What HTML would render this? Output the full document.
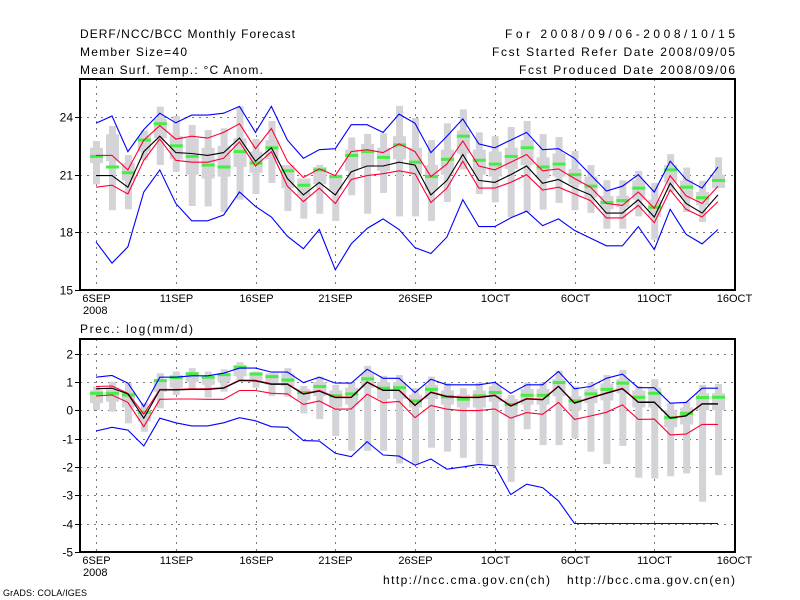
<!DOCTYPE html>
<html><head><meta charset="utf-8"><style>
html,body{margin:0;padding:0;background:#fff;}
svg{display:block;font-family:"Liberation Sans",sans-serif;}
</style></head><body>
<svg id="chart" width="800" height="600" viewBox="0 0 800 600" xmlns="http://www.w3.org/2000/svg">
<rect x="0" y="0" width="800" height="600" fill="#fff"/>
<g font-size="12" fill="#000">
<text x="80" y="38" textLength="215" lengthAdjust="spacing">DERF/NCC/BCC Monthly Forecast</text>
<text x="80" y="56" textLength="107" lengthAdjust="spacing">Member Size=40</text>
<text x="80" y="74" textLength="183" lengthAdjust="spacing">Mean Surf. Temp.: °C Anom.</text>
<text x="505" y="38" textLength="230" lengthAdjust="spacing">For 2008/09/06-2008/10/15</text>
<text x="492" y="56" textLength="243" lengthAdjust="spacing">Fcst Started Refer Date 2008/09/05</text>
<text x="519" y="74" textLength="216" lengthAdjust="spacing">Fcst Produced Date 2008/09/06</text>
<text x="80" y="333" textLength="113" lengthAdjust="spacing">Prec.: log(mm/d)</text>
<text x="383" y="584" textLength="167" lengthAdjust="spacing">http://ncc.cma.gov.cn(ch)</text>
<text x="567" y="584" textLength="168" lengthAdjust="spacing">http://bcc.cma.gov.cn(en)</text>
<text x="3" y="596" font-size="9" textLength="84" lengthAdjust="spacing">GrADS: COLA/IGES</text>
</g>
<g id="p1"></g>
<g id="p2"></g>
</svg>
<script>
const days = ["6SEP","11SEP","16SEP","21SEP","26SEP","1OCT","6OCT","11OCT","16OCT"];
const tTicks = [15,18,21,24];
const pTicks = [-5,-4,-3,-2,-1,0,1,2];
const tMax = [23.67,24.05,22.2,23.35,24.2,23.7,24.1,24.1,24.2,24.55,23.2,24.55,22.8,21.85,22.3,22.35,23.6,23.6,23.2,24.15,23.67,22.15,23.0,23.9,22.6,22.4,22.8,23.2,22.3,22.35,21.85,21.0,20.15,20.4,21.0,20.1,21.7,20.75,20.3,21.4];
const tMin = [17.5,16.4,17.25,20.1,21.25,19.5,18.6,18.6,18.9,20.1,19.35,18.8,17.8,17.15,18.15,16.05,17.4,18.2,18.7,18.15,17.2,16.9,17.75,19.7,18.3,18.3,18.75,19.1,18.35,18.7,18.1,17.7,17.3,17.3,18.3,17.1,19.2,17.9,17.4,18.15];
const tUp = [22.0,22.0,21.25,22.8,23.55,22.85,23.0,22.9,23.2,23.65,22.35,23.4,21.7,20.85,21.3,20.95,22.2,22.3,22.15,22.6,22.2,20.9,21.55,22.75,21.45,21.25,21.65,22.05,21.2,21.3,20.8,20.35,19.5,19.4,20.1,19.25,20.95,19.9,19.5,20.4];
const tMean = [20.95,20.95,20.35,22.2,23.0,22.15,22.1,22.0,22.15,22.9,21.7,22.4,20.8,19.95,20.6,19.95,21.15,21.45,21.45,21.65,21.5,19.95,20.7,22.05,20.7,20.6,21.0,21.45,20.55,20.75,20.3,19.95,19.0,19.0,19.7,18.8,20.55,19.5,19.0,19.95];
const tLo = [20.35,20.45,20.0,21.75,22.85,21.75,21.65,21.65,21.85,22.7,21.45,22.2,20.4,19.6,20.3,19.5,20.75,20.95,21.05,21.2,21.05,19.55,20.3,21.7,20.3,20.3,20.6,21.0,20.2,20.35,20.0,19.65,18.75,18.75,19.4,18.5,20.2,19.2,18.8,19.6];
const tMed = [21.95,21.4,21.1,22.8,23.65,22.5,21.95,21.5,21.4,22.2,21.6,22.4,21.2,20.45,21.25,20.9,22.0,22.2,21.9,22.55,21.65,20.9,21.8,23.0,21.75,21.55,21.95,22.4,21.4,21.55,21.0,20.4,19.55,19.65,20.3,19.3,21.25,20.35,19.8,20.7];
const tRangeHi = [22.75,23.53,22.02,23.3,24.54,24.05,23.58,23.32,23.41,24.56,22.86,23.79,21.46,20.49,21.51,20.99,22.94,23.12,23.15,24.58,23.95,22.8,23.67,24.4,23.2,23.0,23.48,23.79,23.11,22.96,22.23,21.5,20.71,20.71,21.2,20.57,22.07,21.37,20.68,21.9];
const tRangeLo = [20.5,19.15,19.2,21.75,21.5,21.15,19.37,19.35,19.06,19.7,19.99,20.57,19.11,18.71,18.97,18.59,19.93,18.97,20.05,18.83,18.83,18.59,19.58,21.27,19.99,19.56,18.8,19.06,19.18,19.53,19.15,19.01,18.19,18.19,18.83,17.62,20.1,19.06,18.54,20.45];
const tBoxHi = [22.4,23.1,21.6,23.0,23.9,23.0,22.9,22.4,22.5,22.9,22.2,22.8,21.5,20.8,21.4,21.0,22.3,22.6,22.4,23.0,22.4,21.5,22.3,23.3,22.3,22.2,22.4,22.8,21.9,22.1,21.3,20.9,19.9,19.9,20.7,19.7,21.5,20.7,20.1,21.0];
const tBoxLo = [21.6,21.7,20.7,22.2,22.9,21.8,21.0,20.8,20.9,21.4,21.1,21.8,20.3,19.9,20.5,20.2,21.2,21.4,21.2,21.8,21.0,20.2,21.0,22.1,21.0,20.9,21.3,21.5,20.8,20.9,20.5,19.8,19.2,19.3,19.7,18.8,20.6,19.8,19.4,20.3];

const pMax = [1.17,1.23,0.96,0.13,1.17,1.17,1.22,1.22,1.31,1.49,1.49,1.35,1.35,0.98,1.17,0.96,0.96,1.45,1.13,1.13,0.63,1.1,0.9,0.9,0.9,0.99,0.6,0.9,0.9,1.37,0.76,0.84,1.13,1.28,0.8,0.8,0.25,0.28,0.78,0.78];
const pMin = [-0.73,-0.6,-0.7,-1.26,-0.28,-0.44,-0.55,-0.55,-0.44,-0.26,-0.37,-0.58,-0.6,-1.07,-1.09,-1.52,-1.64,-1.11,-1.58,-1.62,-1.94,-1.72,-2.08,-2.0,-1.91,-1.96,-2.98,-2.61,-2.73,-3.2,-4,-4,-4,-4,-4,-4,-4,-4,-4,-4];
const pUp = [0.84,0.86,0.6,-0.13,0.74,0.74,0.76,0.76,0.8,1.07,1.06,0.94,0.94,0.59,0.7,0.47,0.47,1.01,0.72,0.72,0.19,0.65,0.5,0.47,0.47,0.54,0.17,0.42,0.39,0.86,0.27,0.45,0.62,0.78,0.3,0.3,-0.26,-0.18,0.24,0.24];
const pMean = [0.76,0.78,0.58,-0.28,0.72,0.72,0.74,0.74,0.78,1.05,1.04,0.92,0.92,0.57,0.68,0.45,0.45,0.99,0.7,0.7,0.17,0.63,0.48,0.45,0.45,0.52,0.15,0.4,0.37,0.84,0.25,0.43,0.6,0.76,0.28,0.28,-0.28,-0.2,0.22,0.22];
const pLo = [0.51,0.54,0.28,-0.58,0.39,0.4,0.4,0.39,0.39,0.7,0.7,0.6,0.58,0.21,0.33,0.04,0.05,0.57,0.27,0.31,-0.26,0.17,0.04,-0.01,-0.01,0.05,-0.28,-0.08,-0.14,0.28,-0.32,-0.2,-0.07,0.19,-0.32,-0.31,-0.87,-0.84,-0.5,-0.5];
const pMed = [0.6,0.6,0.54,-0.07,1.05,1.16,1.29,1.17,1.26,1.52,1.28,1.19,1.07,0.63,0.84,0.51,0.58,1.11,0.78,0.8,0.33,0.74,0.48,0.39,0.51,0.63,0.21,0.53,0.53,0.98,0.33,0.58,0.74,0.96,0.46,0.6,-0.26,-0.11,0.45,0.46];
const pRangeHi = [0.84,1.01,0.96,0.25,1.31,1.37,1.49,1.37,1.45,1.7,1.37,1.31,1.49,0.86,1.19,0.9,0.98,1.57,1.22,1.25,0.78,1.19,0.96,0.78,0.98,0.98,0.54,0.98,0.98,1.4,0.84,0.98,1.25,1.43,0.86,1.1,0.25,0.31,0.9,0.93];
const pRangeLo = [0.01,-0.05,-0.46,-0.76,0.07,0.54,0.72,0.45,0.66,1.07,0.8,0.51,0.48,-0.11,-0.31,-0.91,-1.43,-1.43,-1.43,-1.88,-1.94,-1.32,-1.46,-1.68,-1.88,-1.96,-2.53,-0.67,-1.23,-1.23,-0.99,-1.46,-1.9,-1.26,-2.38,-2.41,-2.33,-2.23,-3.23,-2.29];
const pBoxHi = [0.7,0.8,0.65,0.0,1.1,1.25,1.35,1.2,1.3,1.6,1.35,1.3,1.3,0.75,1.0,0.7,0.8,1.3,1.0,1.0,0.55,0.9,0.7,0.55,0.7,0.85,0.4,0.75,0.75,1.1,0.5,0.75,0.95,1.1,0.7,0.8,0.0,0.1,0.6,0.6];
const pBoxLo = [0.25,0.3,0.1,-0.4,0.65,0.8,1.0,0.9,1.0,1.2,1.05,0.9,0.85,0.35,0.5,0.1,0.2,0.8,0.4,0.4,0.1,0.4,0.2,0.1,0.1,0.3,-0.2,0.2,0.2,0.5,0.0,0.25,0.35,0.6,0.1,0.1,-0.6,-0.5,0.0,0.0];

const NS = "http://www.w3.org/2000/svg";
const X0 = 96, DX = (734 - 96) / 40;
function xs(i){ return X0 + DX * i; }
function mk(parent, tag, attrs){
  const e = document.createElementNS(NS, tag);
  for (const k in attrs) e.setAttribute(k, attrs[k]);
  parent.appendChild(e); return e;
}
function panel(gid, ys, ticks, frame, S){
  const g = document.getElementById(gid);
  ticks.forEach(t => {
    const y = Math.round(ys(t)) + 0.5;
    if (y > frame.top + 2 && y < frame.bot - 2) {
      const l = mk(g, "line", {x1:80, x2:735, y1:y, y2:y, stroke:"#777", "stroke-width":1, "stroke-dasharray":"2,5"});
      
      
    }
    const tk = mk(g, "line", {x1:75, x2:80, y1:y, y2:y, stroke:"#000", "stroke-width":1});
    
    
    const tx = mk(g, "text", {x:73, y:y+4, "text-anchor":"end", "font-size":12});
    tx.textContent = t;
    
    
  });
  days.forEach((d, k) => {
    const x = Math.round(X0 + k * 5 * DX) + 0.5;
    if (k < days.length - 1) {
      const l = mk(g, "line", {x1:x, x2:x, y1:frame.top, y2:frame.bot, stroke:"#777", "stroke-width":1, "stroke-dasharray":"2,5"});
      
      
    }
    const tx = mk(g, "text", {x:x, y:frame.bot+12, "text-anchor":"middle", "font-size":11});
    tx.textContent = d;
    
    
  });
  const yr = mk(g, "text", {x:83, y:frame.bot+24, "font-size":11});
  yr.textContent = "2008";
  
  
  for (let i = 0; i < 40; i++) {
    const x = xs(i);
    const r1 = mk(g, "rect", {x:x-3, y:ys(S.rh[i]), width:7, height:ys(S.rl[i])-ys(S.rh[i]), fill:"#d3d3d8"});
    
    
    const r2 = mk(g, "rect", {x:x-6, y:ys(S.bh[i]), width:13, height:ys(S.bl[i])-ys(S.bh[i]), fill:"#d3d3d8"});
    
    
  }
  for (let i = 0; i < 40; i++) {
    const r = mk(g, "rect", {x:xs(i)-6, y:ys(S.med[i])-1.5, width:13, height:3, fill:"#44ee44"});
    
    
  }
  const lines = [[S.max,"#0000ff","max-line"],[S.min,"#0000ff","min-line"],[S.lo,"#ff0033","lower-line"],[S.up,"#ff0033","upper-line"],[S.mean,"#000","mean-line"]];
  lines.forEach(([arr,c,n]) => {
    const pts = arr.map((v,i) => xs(i).toFixed(1)+","+ys(v).toFixed(1)).join(" ");
    const p = mk(g, "polyline", {points:pts, fill:"none", stroke:c, "stroke-width":1.1});
    
    
  });
  const f = mk(g, "rect", {x:80, y:frame.top, width:655, height:frame.bot-frame.top, fill:"none", stroke:"#000", "stroke-width":2});
  
  
}
const tY = v => 290 - (v - 15) * (290 - 117) / 9;
const pY = v => 410.3 - v * 28.3;
panel("p1", tY, tTicks, {top:79, bot:290}, {max:tMax,min:tMin,up:tUp,mean:tMean,lo:tLo,med:tMed,rh:tRangeHi,rl:tRangeLo,bh:tBoxHi,bl:tBoxLo});
panel("p2", pY, pTicks, {top:339, bot:552}, {max:pMax,min:pMin,up:pUp,mean:pMean,lo:pLo,med:pMed,rh:pRangeHi,rl:pRangeLo,bh:pBoxHi,bl:pBoxLo});
</script>
</body></html>
